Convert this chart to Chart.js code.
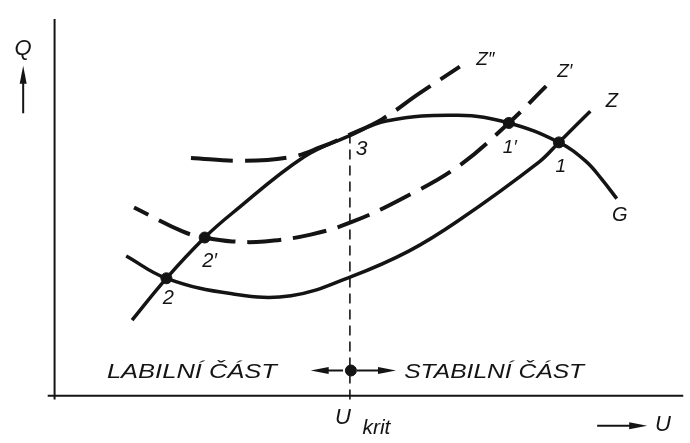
<!DOCTYPE html>
<html>
<head>
<meta charset="utf-8">
<script src="https://cdn.jsdelivr.net/npm/chart.js@4.4.0/dist/chart.umd.min.js"></script>
<style>
  html, body { margin: 0; padding: 0; background: #fff; }
  #wrap { width: 690px; height: 443px; }
</style>
</head>
<body>
<div id="wrap"><canvas id="diagram"></canvas></div>
<script>
// Krivky (U = napeti, Q = jalovy vykon, libovolne jednotky)
const gU = [79, 114, 153, 181, 254, 301, 338, 411, 463, 514, 541, 557, 573];
const gQ = [78, 121, 163, 188, 246, 268, 283, 289, 281, 261, 242, 224, 203];

const zU = [73, 114, 181, 241, 303, 361, 411, 494, 514, 546];
const zQ = [144, 121, 105, 103, 123, 149, 180, 241, 261, 293];

const z1U = [81, 131, 153, 181, 214, 261, 303, 354, 411, 463, 501];
const z1Q = [194, 169, 163, 159, 159, 166, 179, 203, 236, 281, 319];

const z2U = [139, 191, 241, 271, 301, 334, 371, 413];
const z2Q = [245, 242, 246, 256, 269, 285, 311, 339];

const uKrit = 301;
const qKritTop = 274;

// pruseciky
const pointNames = ['2', "2'", "1'", '1', 'krit'];
const pointU = [114, 153, 463, 514, 302];
const pointQ = [121, 163, 281, 261, 26];

const ink = '#141414';

// popisky: text, poloha (U, Q), velikost, sirka
const texts = [
  { text: 'Q', u: -32, q: 357, size: 22 },
  { text: 'Z\u2033', u: 439, q: 346, size: 19 },
  { text: 'Z\u2032', u: 520, q: 334, size: 19 },
  { text: 'Z', u: 568, q: 303, size: 20 },
  { text: 'G', u: 576, q: 186, size: 20 },
  { text: '1\u2032', u: 464, q: 255, size: 19 },
  { text: '1', u: 516, q: 236, size: 19 },
  { text: '2\u2032', u: 158, q: 138, size: 20 },
  { text: '2', u: 116, q: 100, size: 20 },
  { text: '3', u: 313, q: 254, size: 21 },
  { text: 'LABILNÍ ČÁST', u: 140, q: 24, size: 21, w: 170 },
  { text: 'STABILNÍ ČÁST', u: 448, q: 24, size: 21, w: 180 },
  { text: 'U', u: 294, q: -23, size: 22 },
  { text: 'krit', u: 328, q: -33, size: 21 },
  { text: 'U', u: 620, q: -30, size: 22 }
];

// sipky: [odkud U, Q, kam U, Q]
const arrows = [
  [-32, 291, -32, 340],
  [553, -31, 604, -31],
  [294, 26, 261, 26],
  [308, 26, 348, 26]
];

function xy(us, qs) {
  return us.map((u, i) => ({ x: u, y: qs[i] }));
}

function line(data, width, dash, tension, offset) {
  return {
    data: data,
    showLine: true,
    borderColor: ink,
    borderWidth: width,
    borderDash: dash,
    borderDashOffset: offset || 0,
    borderCapStyle: 'butt',
    tension: tension,
    pointRadius: 0,
    fill: false
  };
}

const labelsPlugin = {
  id: 'labels',
  afterDatasetsDraw(chart) {
    const ctx = chart.ctx;
    const px = u => chart.scales.x.getPixelForValue(u);
    const py = q => chart.scales.y.getPixelForValue(q);
    ctx.save();
    ctx.fillStyle = ink;
    ctx.strokeStyle = ink;
    ctx.textAlign = 'center';
    ctx.textBaseline = 'middle';
    texts.forEach(t => {
      ctx.font = 'italic ' + t.size + 'px "Liberation Sans"';
      const w = ctx.measureText(t.text).width;
      ctx.save();
      ctx.translate(px(t.u), py(t.q));
      if (t.w) ctx.scale(t.w / w, 1);
      ctx.fillText(t.text, 0, 0);
      ctx.restore();
    });
    // sipky
    arrows.forEach(a => {
      const x0 = px(a[0]), y0 = py(a[1]), x1 = px(a[2]), y1 = py(a[3]);
      const ang = Math.atan2(y1 - y0, x1 - x0);
      const hl = 18, hw = 3.5;
      ctx.lineWidth = 2;
      ctx.beginPath();
      ctx.moveTo(x0, y0);
      ctx.lineTo(x1 - Math.cos(ang) * hl * 0.8, y1 - Math.sin(ang) * hl * 0.8);
      ctx.stroke();
      ctx.beginPath();
      ctx.moveTo(x1, y1);
      ctx.lineTo(x1 - Math.cos(ang) * hl - Math.sin(ang) * hw, y1 - Math.sin(ang) * hl + Math.cos(ang) * hw);
      ctx.lineTo(x1 - Math.cos(ang) * hl + Math.sin(ang) * hw, y1 - Math.sin(ang) * hl - Math.cos(ang) * hw);
      ctx.closePath();
      ctx.fill();
    });
    ctx.restore();
  }
};

new Chart(document.getElementById('diagram'), {
  type: 'scatter',
  data: {
    datasets: [
      // osy
      line(xy([-7, 641], [0, 0]), 2, [], 0),
      line(xy([0, 0], [-4, 388]), 2, [], 0),
      // U krit
      line(xy([uKrit, uKrit], [-4, qKritTop]), 1.6, [10, 6], 0),
      line(xy(gU, gQ), 3.5, [], 0.4),
      line(xy(zU, zQ), 3.5, [], 0.4),
      line(xy(z1U, z1Q), 4, [34, 12], 0.4, 18),
      line(xy(z2U, z2Q), 4, [42, 12], 0.4),
      {
        data: xy(pointU, pointQ),
        backgroundColor: ink,
        borderColor: ink,
        pointRadius: 5.5,
        pointHoverRadius: 5.5
      }
    ]
  },
  options: {
    responsive: true,
    maintainAspectRatio: false,
    animation: false,
    layout: { padding: 0 },
    scales: {
      x: { type: 'linear', min: -49, max: 641, display: false },
      y: { type: 'linear', min: -42, max: 401, display: false }
    },
    plugins: {
      legend: { display: false },
      tooltip: { enabled: false }
    }
  },
  plugins: [labelsPlugin]
});
</script>
</body>
</html>
